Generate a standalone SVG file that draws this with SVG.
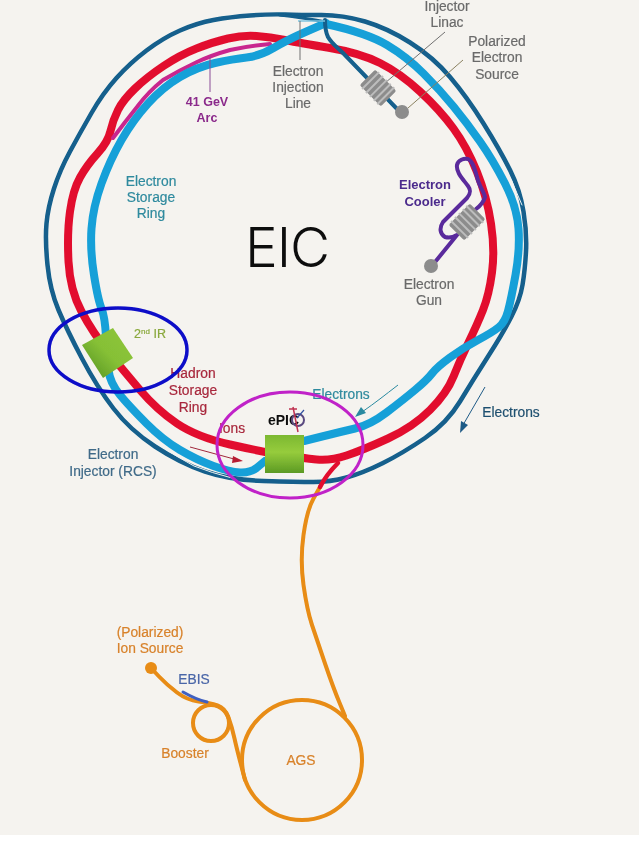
<svg xmlns="http://www.w3.org/2000/svg" width="639" height="847" viewBox="0 0 639 847">
<style>
text{font-family:"Liberation Sans",Arial,sans-serif;font-size:13.8px;text-anchor:middle;stroke-width:.2px;paint-order:stroke}
.ring{fill:none;stroke-linecap:round;stroke-linejoin:round}
.lead{fill:none;stroke-width:1}
.gray{fill:#6a6a6a;stroke:#6a6a6a}
.teal{fill:#2f8a9e;stroke:#2f8a9e}
.red{fill:#a8283c;stroke:#a8283c}
.org{fill:#d8822a;stroke:#d8822a}
</style>
<defs>
<linearGradient id="g1" x1="0" y1="0" x2="0" y2="1"><stop offset="0" stop-color="#7cb832"/><stop offset=".45" stop-color="#96cc3c"/><stop offset="1" stop-color="#5c9a24"/></linearGradient>
<linearGradient id="g2" x1="1" y1="0" x2="0" y2="1"><stop offset="0" stop-color="#8fc63a"/><stop offset=".5" stop-color="#86c036"/><stop offset="1" stop-color="#4f8f20"/></linearGradient>
<filter id="soft" x="-5%" y="-5%" width="110%" height="110%"><feGaussianBlur stdDeviation="0.5"/></filter>
<g id="cav"><rect x="-15" y="-11" width="30" height="22" rx="2" fill="#8c8c8c"/><path d="M-10.500-12V12M-5-12V12M.5-12V12M6-12V12M11-12V12" stroke="#bdbdbd" stroke-width="2"/></g>
</defs>
<rect width="639" height="847" fill="#ffffff"/>
<rect width="639" height="835" fill="#f5f3ef"/>
<g filter="url(#soft)">
<g id="connectors">
<path class="ring" stroke="#e2102f" stroke-width="8" d="M256.500 36Q270 37 285 40Q300 43 330 48Q360 53 380 63Q400 73 420 91.500Q440 110 453.500 128.500Q467 147 477 172Q487 197 491 223.500Q495 250 492 272.500Q489 295 483 310Q477 325 468.500 342.500Q460 360 453.500 376.500Q447 393 430 410Q413 427 388 438.500Q363 450 346.500 455.500Q330 461 316.500 459.500Q303 458 283 455Q263 452 230 444.500Q197 437 177 423.500Q157 410 140 390Q123 370 108 351.500Q93 333 81.500 311.500Q70 290 68.500 261.500Q67 233 70 211.500Q73 190 80 177.500Q87 165 97.500 153.500Q108 142 110.500 131Q113 120 118 110Q123 100 135 88.500Q147 77 163.500 66Q180 55 196.500 48.500Q213 42 228 38.500Q243 35 256.500 36Z"/>
<path class="ring" stroke="#c9268e" stroke-width="4" d="M270 44Q248 46 230 50Q212 55 197 62Q180 70 163 80Q148 92 137 107Q125 122 113 138"/>
<path class="ring" stroke="#125f8c" stroke-width="4.500" d="M285 14.500Q300 15 321.500 15Q343 15 365 21.500Q387 28 410 42.500Q433 57 450 77Q467 97 483.500 123.500Q500 150 510 170Q520 190 523.500 211.500Q527 233 526 251.500Q525 270 522.500 285Q520 300 511.500 316.500Q503 333 488 356.500Q473 380 460 401.500Q447 423 425 438Q403 453 383 463Q363 473 346.500 477.500Q330 482 313.500 482Q297 482 263.500 481Q230 480 205 471.500Q180 463 155 446.500Q130 430 113.500 408.500Q97 387 82 358.500Q67 330 58.500 310Q50 290 47.500 265Q45 240 46.500 223.500Q48 207 54 188.500Q60 170 70 151.500Q80 133 91.500 113Q103 93 116.500 78Q130 63 146.500 50.500Q163 38 180 30.500Q197 23 213.500 20Q230 17 250 15.500Q270 14 285 14.500Z"/>
<path class="ring" stroke="#125f8c" stroke-width="3" d="M280 15Q305 18 326 22"/>
<path class="ring" stroke="#15a0d8" stroke-width="8" d="M304 441L322 436.500Q340 432 355 428.500Q370 425 386.500 412.500Q403 400 415 390Q427 380 432 373.500Q437 367 450 357.500Q463 348 478 340Q493 332 499 327Q505 322 508 311Q511 300 515.500 275Q520 250 518.500 228.500Q517 207 505 183.500Q493 160 480 141.500Q467 123 453.500 106.500Q440 90 423.500 73.500Q407 57 387 45Q367 33 326 24"/>
<path class="ring" stroke="#15a0d8" stroke-width="8" d="M326 23L306.500 31.500Q287 40 273.500 48Q260 56 246.500 57.500Q233 59 215 63Q197 67 180 77Q163 87 148 103.500Q133 120 121.500 140Q110 160 101.500 183.500Q93 207 91.500 228.500Q90 250 94 275Q98 300 101.500 308.500Q105 317 106 337Q107 357 108.500 370Q110 383 120 395Q130 407 146.500 423.500Q163 440 180 450Q197 460 213.500 466Q230 472 240 472.500Q250 473 256.500 468L265 461"/>
<path class="ring" stroke="#eef4f4" stroke-width="1" d="M372 30Q392 39 413 52Q431 67 446 85Q461 102 473 119Q486 138 499 157Q513 181 522 205"/>
<path class="ring" stroke="#eef4f4" stroke-width="1" d="M105 383Q114 398 126 412Q142 429 159 445Q177 457 194 466Q212 473 232 478"/>
<path class="ring" stroke="#125f8c" stroke-width="4" d="M325 20C325 28 326 33 328 37C332 44 337 47 343 53L400 112"/>
<path fill="none" stroke="#7cc4e0" stroke-width="1.500" d="M298 21H325"/>
<path class="lead" stroke="#707070" d="M300 21V60M445 32L385 83"/>
<path class="lead" stroke="#8a8060" d="M463 60L408 108"/>
<path class="lead" stroke="#8a4c96" d="M210 57V92"/>
<path class="ring" stroke="#5a2a9c" stroke-width="4" d="M431 267L457 235C452 238 448 238 445 237C440 234 439 228 443 222L467 198C471 193 471 190 468 186C462 178 456 172 457 165C458 160 464 158 468 159C473 161 475 170 477 177C479 186 484 192 485 197C484 201 480 206 476 209"/>
<path class="ring" stroke="#e88c14" stroke-width="4" d="M345 716L339 701.500Q333 687 325 663.500Q317 640 312 625Q307 610 303.500 585Q300 560 303.500 535Q307 510 313.500 498.500L320 487"/>
<path class="ring" stroke="#e2102f" stroke-width="4.500" d="M320 487Q326 475 338 463"/>
<path class="ring" stroke="#e88c14" stroke-width="4" d="M151 668L159 676.500Q167 685 177 692.500Q187 700 198.500 701.500Q210 703 217.500 705.500Q225 708 228.500 717.500Q232 727 234.500 738.500Q237 750 245 780"/>
<circle cx="302" cy="760" r="60" fill="none" stroke="#e88c14" stroke-width="4"/>
<circle cx="211" cy="723" r="18" fill="none" stroke="#e88c14" stroke-width="4"/>
<path class="ring" stroke="#4060c0" stroke-width="3" d="M183 692C190 696 198 700 207 702"/>
<path fill="none" stroke="#1f5a86" d="M485 387L463 425"/><path fill="#1f5a86" d="M460 433L461 421L468 425Z"/>
<path fill="none" stroke="#2a8aa0" d="M398 385C385 395 375 403 362 412"/><path fill="#2a8aa0" d="M355 417L361 407L366 413Z"/>
<path fill="none" stroke="#a0283c" d="M190 447L234 459"/><path fill="#b81c30" d="M243 461L232 463L233 456Z"/>
</g>
<g id="eic"><text x="287" y="267" style="font-family:Inter,'Liberation Sans',sans-serif;font-weight:300;font-size:55px;letter-spacing:-1px" fill="#111">EIC</text></g>
<g id="injector-linac"><use href="#cav" transform="translate(378 88) rotate(45)"/><text x="447" y="11" class="gray">Injector</text><text x="447" y="27" class="gray">Linac</text></g>
<g id="polarized-electron-source"><circle cx="402" cy="112" r="7" fill="#8c8c8c"/><text x="497" y="46" class="gray">Polarized</text><text x="497" y="62" class="gray">Electron</text><text x="497" y="79" class="gray">Source</text></g>
<g id="electron-injection-line"><text x="298" y="76" class="gray">Electron</text><text x="298" y="92" class="gray">Injection</text><text x="298" y="108" class="gray">Line</text></g>
<g id="arc-41"><text x="207" y="106" fill="#8b2a8b" style="font-weight:bold;font-size:12.500px">41 GeV</text><text x="207" y="122" fill="#8b2a8b" style="font-weight:bold;font-size:12.500px">Arc</text></g>
<g id="electron-storage-ring"><text x="151" y="186" class="teal">Electron</text><text x="151" y="202" class="teal">Storage</text><text x="151" y="218" class="teal">Ring</text></g>
<g id="electron-cooler"><use href="#cav" transform="translate(467 222) rotate(-45)"/><text x="425" y="189" fill="#4b2a8c" style="font-weight:bold;font-size:13px">Electron</text><text x="425" y="206" fill="#4b2a8c" style="font-weight:bold;font-size:13px">Cooler</text></g>
<g id="electron-gun"><circle cx="431" cy="266" r="7" fill="#8c8c8c"/><text x="429" y="289" class="gray">Electron</text><text x="429" y="305" class="gray">Gun</text></g>
<g id="hadron-storage-ring"><text x="193" y="378" class="red">Hadron</text><text x="193" y="395" class="red">Storage</text><text x="193" y="412" class="red">Ring</text></g>
<g id="ions"><text x="232" y="433" class="red">Ions</text></g>
<g id="electrons-teal"><text x="341" y="399" class="teal">Electrons</text></g>
<g id="electrons-dark"><text x="511" y="417" fill="#1f4f6f" stroke="#1f4f6f">Electrons</text></g>
<g id="electron-injector-rcs"><text x="113" y="459" fill="#3f6a88" stroke="#3f6a88">Electron</text><text x="113" y="476" fill="#3f6a88" stroke="#3f6a88">Injector (RCS)</text></g>
<g id="second-ir"><polygon points="113,328 133,358 103,378 82,345" fill="url(#g2)"/><text x="150" y="338" fill="#8aa83c" stroke="#8aa83c" style="font-size:12.500px">2<tspan dy="-4" style="font-size:8px">nd</tspan><tspan dy="4"> IR</tspan></text></g>
<g id="epic"><rect x="265" y="435" width="39" height="38" fill="url(#g1)"/><text x="283.500" y="425" fill="#111" style="font-weight:bold;font-size:14px">ePIC</text><circle cx="298" cy="420" r="6" fill="none" stroke="#5a4a80" stroke-width="2"/><path d="M293 407L298 432M289 409H297" fill="none" stroke="#c03050" stroke-width="1.500"/><path d="M304 410L297 418" fill="none" stroke="#3050a0" stroke-width="1.200"/></g>
<g id="ion-source"><circle cx="151" cy="668" r="6" fill="#e88c14"/><text x="150" y="637" class="org">(Polarized)</text><text x="150" y="653" class="org">Ion Source</text></g>
<g id="ebis"><text x="194" y="684" fill="#4a66a8" stroke="#4a66a8">EBIS</text></g>
<g id="booster"><text x="185" y="758" class="org">Booster</text></g>
<g id="ags"><text x="301" y="765" class="org">AGS</text></g>
<g id="ir-ellipse"><ellipse cx="118" cy="350" rx="69" ry="42" fill="none" stroke="#0a0ac8" stroke-width="3.500"/></g>
<g id="epic-ellipse"><ellipse cx="290" cy="445" rx="73" ry="53" fill="none" stroke="#c020c8" stroke-width="3"/></g>
</g>
</svg>
